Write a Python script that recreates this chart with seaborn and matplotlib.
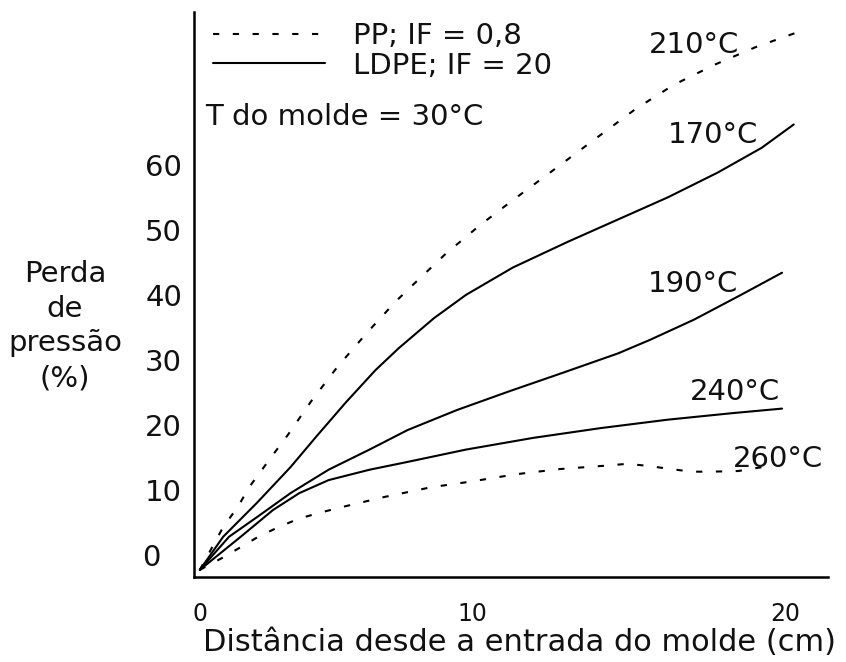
import matplotlib
matplotlib.use("Agg")
import matplotlib.pyplot as plt
import matplotlib.transforms as mtrans
import pandas as pd
import seaborn as sns

# Distance from the mould gate (cm) and pressure loss (%)
pp210_x = [0, 0.8, 1.3, 1.7, 2.5, 3.0, 3.8, 4.7, 5.7, 6.7, 7.3, 8.4, 9.6, 10.8, 12.0, 13.7, 14.9, 16.2, 17.6, 19.0, 20.5]
pp210_y = [-2.3, 4.3, 7.4, 10.5, 15.4, 18.4, 23.6, 28.9, 34.1, 39.0, 41.6, 46.3, 50.8, 54.9, 58.9, 64.6, 68.6, 72.3, 75.4, 78.1, 80.5]

ldpe170_x = [0, 0.8, 1.95, 3.1, 4.0, 5.0, 6.0, 6.8, 8.0, 9.1, 10.7, 12.6, 14.3, 16.0, 17.7, 19.2, 20.3]
ldpe170_y = [-2.3, 2.8, 8.0, 13.5, 18.3, 23.5, 28.4, 31.8, 36.4, 40.0, 44.2, 48.2, 51.6, 55.0, 58.8, 62.6, 66.2]

ldpe190_x = [0, 1.0, 1.95, 3.1, 4.4, 5.8, 7.1, 8.8, 10.6, 12.4, 14.3, 15.4, 16.9, 18.5, 19.9]
ldpe190_y = [-2.3, 2.8, 5.8, 9.5, 13.1, 16.2, 19.2, 22.3, 25.2, 28.0, 31.0, 33.1, 36.2, 40.0, 43.4]

ldpe240_x = [0, 1.4, 2.5, 3.4, 4.4, 5.8, 7.1, 9.1, 11.4, 13.7, 16.0, 18.2, 19.9]
ldpe240_y = [-2.3, 2.8, 6.9, 9.5, 11.5, 13.1, 14.3, 16.2, 18.0, 19.5, 20.8, 21.8, 22.5]

pp260_x = [0, 0.75, 1.4, 2.0, 2.7, 3.4, 4.2, 4.9, 6.3, 7.9, 9.3, 10.8, 12.3, 13.8, 14.6, 15.3, 16.1, 16.8, 17.5, 18.4, 19.5]
pp260_y = [-2.3, -0.5, 1.2, 2.8, 4.3, 5.6, 6.6, 7.4, 8.9, 10.4, 11.3, 12.4, 13.2, 13.7, 14.0, 13.7, 13.2, 12.8, 12.8, 12.9, 13.7]

curve_labels = ["210°C", "170°C", "190°C", "240°C", "260°C"]
curve_polymer = ["PP", "LDPE", "LDPE", "LDPE", "PP"]
# where each temperature label sits (data units)
label_x = [16.9, 17.55, 16.85, 18.3, 19.75]
label_y = [77.2, 63.4, 40.5, 23.8, 13.5]

x_ticks = [0, 10, 20]
y_ticks = [0, 10, 20, 30, 40, 50, 60]
legend_labels = {"PP": "PP; IF = 0,8", "LDPE": "LDPE; IF = 20"}

dash_style = (0, (3, 6.5))


def build_frame():
    xs = [pp210_x, ldpe170_x, ldpe190_x, ldpe240_x, pp260_x]
    ys = [pp210_y, ldpe170_y, ldpe190_y, ldpe240_y, pp260_y]
    rows = []
    for name, poly, x, y in zip(curve_labels, curve_polymer, xs, ys):
        rows.append(pd.DataFrame({"dist": x, "loss": y, "curve": name, "polymer": poly}))
    return pd.concat(rows, ignore_index=True)


def shift_label(text, dx_in, fig):
    text.set_transform(text.get_transform() + mtrans.ScaledTranslation(dx_in, 0, fig.dpi_scale_trans))


def plot(df):
    sns.set_theme(style="white")
    plt.rcParams["font.family"] = ["DejaVu Sans"]

    fig = plt.figure(figsize=(8.46, 6.62), dpi=100)
    ax = fig.add_axes([0.2293, 0.1284, 0.7494, 0.8535])

    handles = {}
    for name in curve_labels:
        sub = df[df["curve"] == name]
        poly = sub["polymer"].iloc[0]
        ls = dash_style if poly == "PP" else "-"
        sns.lineplot(data=sub, x="dist", y="loss", ax=ax, color="black",
                     linewidth=1.5, linestyle=ls, sort=False, estimator=None)
        line = ax.lines[-1]
        line.set_linestyle(ls)
        line.set_solid_joinstyle("round")
        handles.setdefault(poly, line)

    for name, tx, ty in zip(curve_labels, label_x, label_y):
        ax.text(tx, ty, name, ha="center", va="baseline", fontsize=21, color="#111111")

    ax.set_xlim(-0.2, 21.47)
    ax.set_ylim(-3.4, 83.5)
    ax.set_xticks(x_ticks)
    ax.set_xticklabels([str(t) for t in x_ticks])
    ax.set_yticks(y_ticks)
    ax.set_yticklabels([str(t) for t in y_ticks])
    ax.tick_params(axis="y", length=0, pad=8.6, labelsize=21, colors="#111111")
    ax.tick_params(axis="x", length=0, pad=18, labelsize=17, colors="#111111")

    # a couple of tick labels sit off their true position in the original
    shift_label(ax.xaxis.get_major_ticks()[1].label1, -0.2, fig)
    shift_label(ax.yaxis.get_major_ticks()[0].label1, -0.22, fig)

    for side in ["top", "right"]:
        ax.spines[side].set_visible(False)
    for side in ["left", "bottom"]:
        ax.spines[side].set_color("black")
        ax.spines[side].set_linewidth(1.8)

    ax.set_xlabel("Distância desde a entrada do molde (cm)", fontsize=22, color="#111111")
    ax.xaxis.set_label_coords(0.514, -0.091)
    ax.set_ylabel("Perda\nde\npressão\n(%)", rotation=0, ha="center", va="center",
                  fontsize=21, linespacing=1.3, color="#111111")
    ax.yaxis.set_label_coords(-0.2035, 0.444)

    leg = ax.legend([handles["PP"], handles["LDPE"]],
                    [legend_labels["PP"], legend_labels["LDPE"]],
                    loc="upper left", bbox_to_anchor=(0.03, 0.982), frameon=False,
                    fontsize=21, handlelength=3.85, handletextpad=0.95,
                    borderpad=0, borderaxespad=0, labelspacing=0.05)
    for t in leg.get_texts():
        t.set_color("#111111")

    ax.text(0.017, 0.80, "T do molde = 30°C", transform=ax.transAxes,
            ha="left", va="baseline", fontsize=21, color="#111111")

    fig.savefig("out.png", dpi=100)


def main():
    df = build_frame()
    plot(df)


if __name__ == "__main__":
    main()
